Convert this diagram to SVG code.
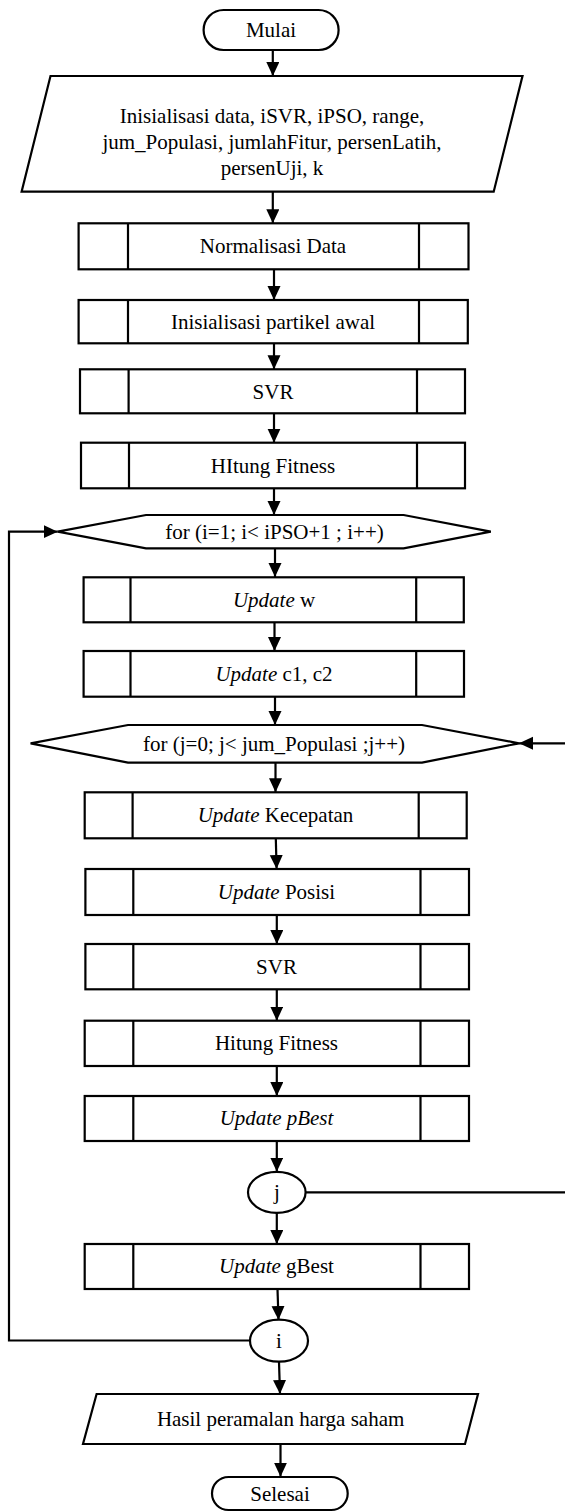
<svg xmlns="http://www.w3.org/2000/svg" width="565" height="1512" viewBox="0 0 565 1512">
<defs>
<marker id="ah" markerUnits="userSpaceOnUse" markerWidth="16" markerHeight="16" refX="14" refY="6.5" orient="auto">
<path d="M0,0 L14,6.5 L0,13 Z" fill="#000"/>
</marker>
<style>
.s{fill:#fff;stroke:#000;stroke-width:2.2}
.l{fill:none;stroke:#000;stroke-width:2.2}
.c{fill:none;stroke:#000;stroke-width:2.2;marker-end:url(#ah)}
text{font-family:'Liberation Serif','Times New Roman',serif;font-size:21px;fill:#000;text-anchor:middle}
.it{font-style:italic}
</style>
</defs>
<rect width="565" height="1512" fill="#fff"/>
<g id="connectors">
<path class="c" d="M272.8,50 V76"/>
<path class="c" d="M272.8,191.7 V223.3"/>
<path class="c" d="M274,269.3 V300"/>
<path class="c" d="M274,343.3 V369.3"/>
<path class="c" d="M274,413.3 V442.7"/>
<path class="c" d="M274,488.3 V515"/>
<path class="c" d="M275,548.3 V577"/>
<path class="c" d="M274.5,622.3 V651"/>
<path class="c" d="M275,696.7 V725"/>
<path class="c" d="M275.5,762.7 V792.3"/>
<path class="c" d="M275.8,838.3 L276.6,869"/>
<path class="c" d="M276.8,915 V944"/>
<path class="c" d="M276.8,989.3 V1020.7"/>
<path class="c" d="M276.8,1066 V1096"/>
<path class="c" d="M276.8,1141 V1171.7"/>
<path class="c" d="M276.8,1212.7 V1244"/>
<path class="c" d="M277.5,1289 L278.5,1320"/>
<path class="c" d="M279,1361.7 L280,1394"/>
<path class="c" d="M280.5,1444 V1476.7"/>
<path class="c" d="M250,1340.5 H9 V531.7 H57.7"/>
<path class="c" d="M305.6,1192.3 H567 V743.3 H519"/>
</g>
<g font-family="Liberation Serif, Times New Roman, serif">
<g id="mulai">
<rect class="s" x="203.6" y="10" width="135" height="40" rx="20"/>
<text x="271" y="37">Mulai</text>
</g>
<g id="input">
<polygon class="s" points="50.5,76 522.5,76 493.7,191.7 21.6,191.7"/>
<text x="272" y="123">Inisialisasi data, iSVR, iPSO, range,</text>
<text x="272" y="149">jum_Populasi, jumlahFitur, persenLatih,</text>
<text x="272" y="175">persenUji, k</text>
</g>
<g id="normalisasi">
<rect class="s" x="78.6" y="223.3" width="389.9" height="46"/>
<path class="l" d="M128,223.3 V269.3 M419,223.3 V269.3"/>
<text x="273" y="253">Normalisasi Data</text>
</g>
<g id="inisialisasi">
<rect class="s" x="78.6" y="300" width="389.2" height="43.3"/>
<path class="l" d="M128,300 V343.3 M419,300 V343.3"/>
<text x="273" y="328.5">Inisialisasi partikel awal</text>
</g>
<g id="svr1">
<rect class="s" x="80" y="369.3" width="385" height="44"/>
<path class="l" d="M128.6,369.3 V413.3 M417,369.3 V413.3"/>
<text x="273" y="398.5">SVR</text>
</g>
<g id="hitung1">
<rect class="s" x="81" y="442.7" width="384" height="45.6"/>
<path class="l" d="M129,442.7 V488.3 M417,442.7 V488.3"/>
<text x="273" y="472.5">HItung Fitness</text>
</g>
<g id="for-i">
<polygon class="s" points="57.7,531.7 146,515 403.6,515 490.8,531.7 403.6,548.3 146,548.3"/>
<text x="274.5" y="538.5">for (i=1; i&lt; iPSO+1 ; i++)</text>
</g>
<g id="update-w">
<rect class="s" x="83.6" y="577.3" width="380.2" height="45"/>
<path class="l" d="M130.5,577.3 V622.3 M416.2,577.3 V622.3"/>
<text x="274" y="606.5"><tspan class="it">Update</tspan> w</text>
</g>
<g id="update-c">
<rect class="s" x="83.6" y="651" width="380.4" height="45.7"/>
<path class="l" d="M130.5,651 V696.7 M416.2,651 V696.7"/>
<text x="274" y="680.5"><tspan class="it">Update</tspan> c1, c2</text>
</g>
<g id="for-j">
<polygon class="s" points="30.6,743.3 128,725 422,725 519,743.3 422,762.7 128,762.7"/>
<text x="274" y="750.5">for (j=0; j&lt; jum_Populasi ;j++)</text>
</g>
<g id="kecepatan">
<rect class="s" x="84.7" y="792.3" width="382" height="46"/>
<path class="l" d="M132.6,792.3 V838.3 M418.7,792.3 V838.3"/>
<text x="275.5" y="822"><tspan class="it">Update</tspan> Kecepatan</text>
</g>
<g id="posisi">
<rect class="s" x="85.4" y="869" width="383.6" height="46"/>
<path class="l" d="M133.3,869 V915 M420.5,869 V915"/>
<text x="276.5" y="899"><tspan class="it">Update</tspan> Posisi</text>
</g>
<g id="svr2">
<rect class="s" x="85.4" y="944" width="383.6" height="45.3"/>
<path class="l" d="M133.3,944 V989.3 M420.5,944 V989.3"/>
<text x="276.5" y="973.5">SVR</text>
</g>
<g id="hitung2">
<rect class="s" x="84.7" y="1020.7" width="384.3" height="45.3"/>
<path class="l" d="M133.3,1020.7 V1066 M420.5,1020.7 V1066"/>
<text x="276.5" y="1050">Hitung Fitness</text>
</g>
<g id="pbest">
<rect class="s" x="84.7" y="1096" width="384.3" height="45"/>
<path class="l" d="M133.3,1096 V1141 M420.5,1096 V1141"/>
<text x="276.5" y="1125" class="it">Update pBest</text>
</g>
<g id="j">
<ellipse class="s" cx="276.8" cy="1192.3" rx="28.8" ry="20.5"/>
<text x="276.8" y="1199">j</text>
</g>
<g id="gbest">
<rect class="s" x="84.7" y="1244" width="384.3" height="45"/>
<path class="l" d="M133.3,1244 V1289 M420.5,1244 V1289"/>
<text x="276.5" y="1273"><tspan class="it">Update</tspan> gBest</text>
</g>
<g id="i">
<ellipse class="s" cx="279" cy="1340.7" rx="29" ry="21"/>
<text x="279" y="1347.5">i</text>
</g>
<g id="hasil">
<polygon class="s" points="96.6,1394 478,1394 465,1444 83,1444"/>
<text x="280.6" y="1426">Hasil peramalan harga saham</text>
</g>
<g id="selesai">
<rect class="s" x="212" y="1477" width="135.7" height="33" rx="16.5"/>
<text x="280" y="1500.5">Selesai</text>
</g>
</g>
</svg>
